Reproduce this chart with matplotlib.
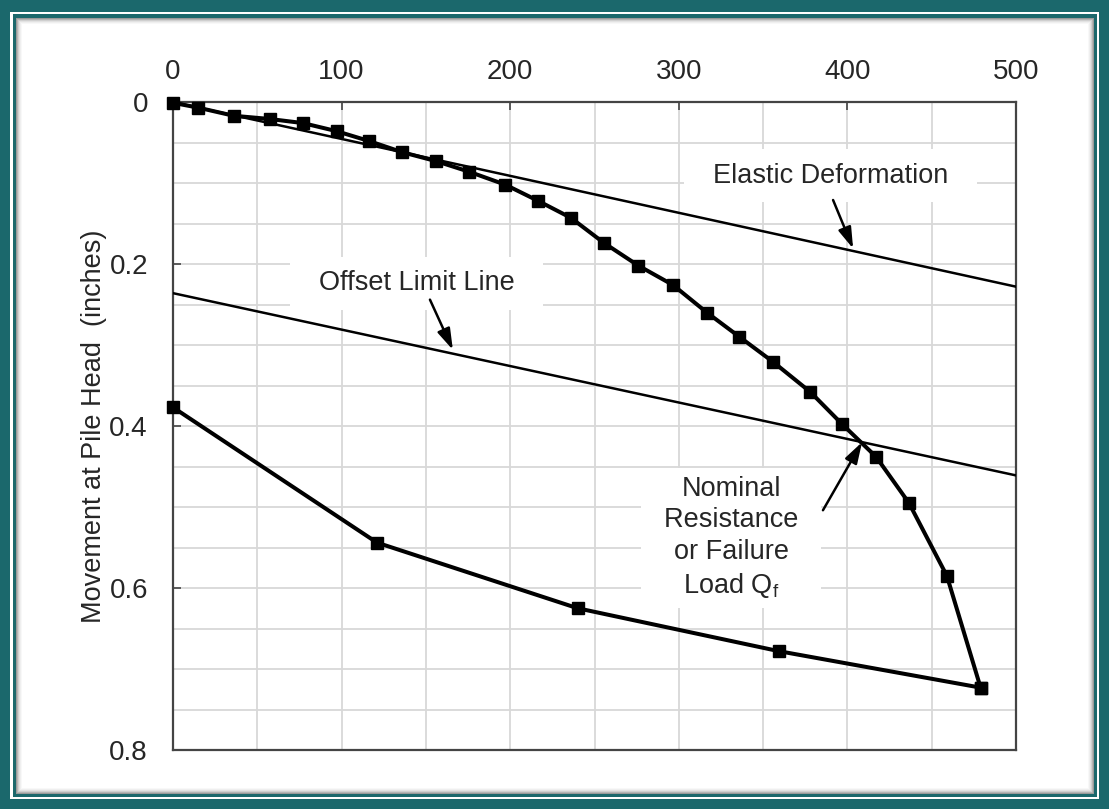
import numpy as np
import matplotlib.pyplot as plt
from matplotlib.patches import Rectangle

plt.rcParams['font.family'] = ['Liberation Sans', 'DejaVu Sans']

# loading curve (load in kips, movement in inches)
load_up = [0, 15, 36, 57.5, 77, 97, 116, 136, 156, 175.5, 197, 216.5, 236, 255.6,
           276, 296.6, 316.7, 336, 356, 378, 397, 417, 436.5, 459, 479]
move_up = [0.001, 0.007, 0.017, 0.021, 0.026, 0.036, 0.048, 0.062, 0.073, 0.086,
           0.102, 0.122, 0.143, 0.174, 0.202, 0.226, 0.260, 0.290, 0.321, 0.358,
           0.398, 0.438, 0.495, 0.585, 0.723]

# unloading curve
load_down = [479, 359.4, 240, 121, 0]
move_down = [0.723, 0.678, 0.625, 0.544, 0.377]

# reference lines
elastic_x = [0, 500]
elastic_y = [0, 0.228]
offset_x = [0, 500]
offset_y = [0.236, 0.461]

x_ticks = [0, 100, 200, 300, 400, 500]
y_ticks = [0, 0.2, 0.4, 0.6, 0.8]

W, H = 1109, 809
teal = '#1b686c'
txt = '#262626'

fig = plt.figure(figsize=(W / 100, H / 100), dpi=100, facecolor=teal)


def frame_rect(x0, y0, x1, y1, **kw):
    # rectangle given in pixel coords from the top-left corner
    r = Rectangle((x0 / W, 1 - y1 / H), (x1 - x0) / W, (y1 - y0) / H,
                  transform=fig.transFigure, zorder=-10, **kw)
    fig.patches.append(r)


frame_rect(10, 11.7, 1099.3, 798.7, facecolor='white', edgecolor='none')
frame_rect(12.7, 14.3, 1096.7, 796.7, facecolor=teal, edgecolor='none')
frame_rect(16, 18, 1094, 794, facecolor='#9a9a9a', edgecolor='none')
# soft inner shadow
for i, g in enumerate(['#b5b5b5', '#cfcfcf', '#e2e2e2', '#efefef', '#f8f8f8']):
    frame_rect(17 + i, 19 + i, 1093 - i, 793 - i, facecolor=g, edgecolor='none')
frame_rect(22, 24, 1088, 788, facecolor='white', edgecolor='none')

ax = fig.add_axes([173 / W, 1 - 750 / H, (1016 - 173) / W, (750 - 102) / H])
ax.set_facecolor('white')

ax.set_xlim(0, 500)
ax.set_ylim(0.8, 0)
ax.xaxis.tick_top()
ax.set_xticks(x_ticks)
ax.set_yticks(y_ticks)
ax.set_yticklabels(['0', '0.2', '0.4', '0.6', '0.8'])
ax.set_xticks(np.arange(0, 501, 50), minor=True)
ax.set_yticks(np.arange(0, 0.81, 0.05), minor=True)
ax.grid(True, which='both', color='#d8d8d8', linewidth=1.3, zorder=0)
ax.set_axisbelow(True)
ax.tick_params(axis='both', which='major', direction='in', length=6, width=1.2,
               labelsize=20, color='#444444', labelcolor=txt)
ax.tick_params(axis='y', which='major', pad=18)
ax.tick_params(axis='x', which='major', pad=12)
ax.tick_params(axis='both', which='minor', length=0)
ax.tick_params(axis='x', top=True, bottom=False)
for s in ax.spines.values():
    s.set_color('#444444')
    s.set_linewidth(1.6)

ax.set_ylabel('Movement at Pile Head  (inches)', fontsize=19.5, color=txt,
              labelpad=2)

ax.plot(elastic_x, elastic_y, color='black', lw=1.8, zorder=3)
ax.plot(offset_x, offset_y, color='black', lw=1.8, zorder=3)
ax.plot(load_up, move_up, color='black', lw=2.9, marker='s', ms=9, zorder=4,
        clip_on=False)
ax.plot(load_down, move_down, color='black', lw=2.9, marker='s', ms=9, zorder=4,
        clip_on=False)

box = dict(boxstyle='square,pad=0.5', facecolor='white', edgecolor='none')
arrow = dict(arrowstyle='-|>,head_length=0.8,head_width=0.25', color='black',
             lw=1.8, mutation_scale=16, shrinkA=0, shrinkB=0)

ax.text(390, 0.091, '  Elastic Deformation  ', fontsize=19.5, color=txt,
        ha='center', va='center', bbox=box, zorder=2)
ax.annotate('', xy=(403.4, 0.181), xytext=(391.5, 0.121), arrowprops=arrow, zorder=5)

ax.text(144.4, 0.224, '  Offset Limit Line  ', fontsize=19.5, color=txt,
        ha='center', va='center', bbox=box, zorder=2)
ax.annotate('', xy=(166, 0.306), xytext=(152.4, 0.244), arrowprops=arrow, zorder=5)

ax.text(331, 0.538, 'Nominal\n  Resistance  \nor Failure\nLoad Q$_\\mathregular{f}$',
        fontsize=19.5, color=txt, ha='center', va='center', linespacing=1.28,
        bbox=dict(boxstyle='square,pad=0.3', facecolor='white', edgecolor='none'),
        zorder=2)
ax.annotate('', xy=(408.7, 0.420), xytext=(385.5, 0.504), arrowprops=arrow, zorder=5)

fig.savefig('out.png', dpi=100, facecolor=teal)
